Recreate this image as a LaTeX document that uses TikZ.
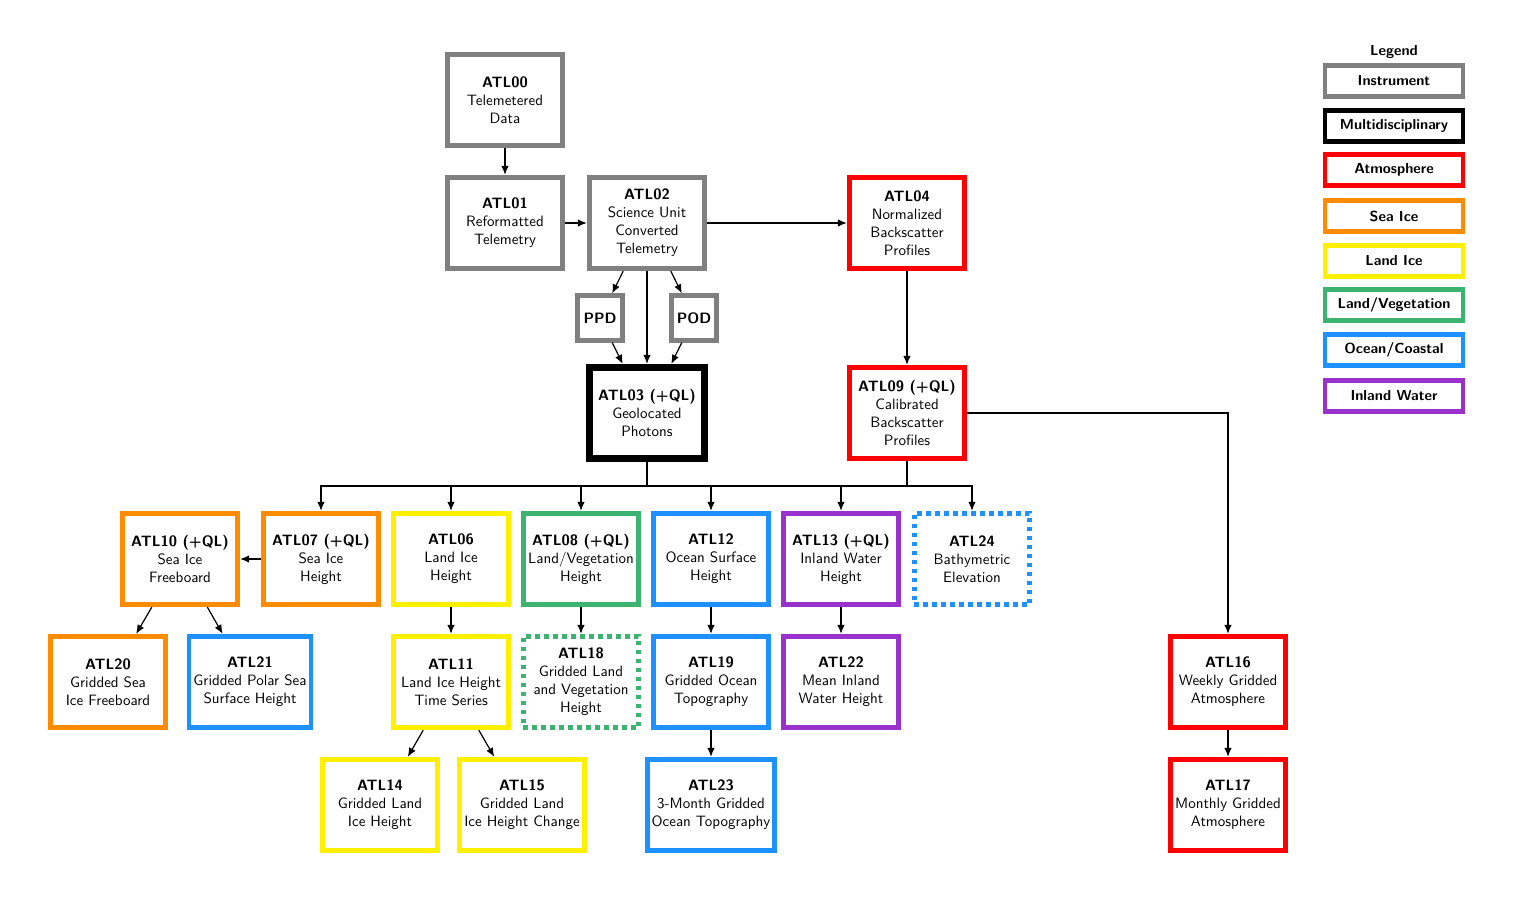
\documentclass[tikz,border=0pt]{standalone}
\usetikzlibrary{arrows.meta}

\definecolor{instr}{RGB}{128,128,128}
\definecolor{atmos}{RGB}{255,0,0}
\definecolor{seaice}{RGB}{255,140,0}
\definecolor{landice}{RGB}{255,240,0}
\definecolor{landveg}{RGB}{60,179,113}
\definecolor{ocean}{RGB}{30,144,255}
\definecolor{inland}{RGB}{153,50,204}

\tikzset{
    prod/.style={draw, line width=3.2pt, fill=white, align=center, font=\sffamily,
        minimum width=77pt, minimum height=61pt, inner sep=3pt},
    aux/.style={draw, line width=3.2pt, fill=white, font=\sffamily,
        minimum size=29.7pt, inner sep=1pt},
    planned/.style={dash pattern=on 3pt off 3pt},
    leg/.style={draw, line width=3.2pt, fill=white,
        font=\sffamily\fontsize{9.7pt}{11pt}\selectfont\bfseries,
        minimum width=92pt, minimum height=21pt, inner sep=1pt},
    link/.style={-{Latex[length=6pt,width=5pt]}, line width=0.8pt},
}

\begin{document}
\begin{tikzpicture}[x=0.6667pt, y=-0.6667pt]
    \useasboundingbox (0,0) rectangle (1515,897);

    % Instrument
    \node[prod, draw=instr] (ATL00) at (505,100) {\textbf{ATL00}\\Telemetered\\Data};
    \node[prod, draw=instr] (ATL01) at (505,223) {\textbf{ATL01}\\Reformatted\\Telemetry};
    \node[prod, draw=instr] (ATL02) at (647,223) {\textbf{ATL02}\\Science Unit\\Converted\\Telemetry};
    \node[aux, draw=instr] (PPD) at (600,318) {\textbf{PPD}};
    \node[aux, draw=instr] (POD) at (694,318) {\textbf{POD}};

    % Multidisciplinary
    \node[prod, draw=black, line width=4.5pt] (ATL03) at (647,413) {\textbf{ATL03 (+QL)}\\Geolocated\\Photons};

    % Atmosphere
    \node[prod, draw=atmos] (ATL04) at (907,223) {\textbf{ATL04}\\Normalized\\Backscatter\\Profiles};
    \node[prod, draw=atmos] (ATL09) at (907,413) {\textbf{ATL09 (+QL)}\\Calibrated\\Backscatter\\Profiles};
    \node[prod, draw=atmos] (ATL16) at (1228,682) {\textbf{ATL16}\\Weekly Gridded\\Atmosphere};
    \node[prod, draw=atmos] (ATL17) at (1228,805) {\textbf{ATL17}\\Monthly Gridded\\Atmosphere};

    % Sea ice
    \node[prod, draw=seaice] (ATL07) at (321,559) {\textbf{ATL07 (+QL)}\\Sea Ice\\Height};
    \node[prod, draw=seaice] (ATL10) at (180,559) {\textbf{ATL10 (+QL)}\\Sea Ice\\Freeboard};
    \node[prod, draw=seaice] (ATL20) at (108,682) {\textbf{ATL20}\\Gridded Sea\\Ice Freeboard};

    % Land ice
    \node[prod, draw=landice] (ATL06) at (451,559) {\textbf{ATL06}\\Land Ice\\Height};
    \node[prod, draw=landice] (ATL11) at (451,682) {\textbf{ATL11}\\Land Ice Height\\Time Series};
    \node[prod, draw=landice] (ATL14) at (380,805) {\textbf{ATL14}\\Gridded Land\\Ice Height};
    \node[prod, draw=landice] (ATL15) at (522,805) {\textbf{ATL15}\\Gridded Land\\Ice Height Change};

    % Land / vegetation
    \node[prod, draw=landveg] (ATL08) at (581,559) {\textbf{ATL08 (+QL)}\\Land/Vegetation\\Height};
    \node[prod, draw=landveg, planned] (ATL18) at (581,682) {\textbf{ATL18}\\Gridded Land\\and Vegetation\\Height};

    % Ocean / coastal
    \node[prod, draw=ocean] (ATL12) at (711,559) {\textbf{ATL12}\\Ocean Surface\\Height};
    \node[prod, draw=ocean] (ATL19) at (711,682) {\textbf{ATL19}\\Gridded Ocean\\Topography};
    \node[prod, draw=ocean] (ATL23) at (711,805) {\textbf{ATL23}\\3-Month Gridded\\Ocean Topography};
    \node[prod, draw=ocean] (ATL21) at (250,682) {\textbf{ATL21}\\Gridded Polar Sea\\Surface Height};
    \node[prod, draw=ocean, planned] (ATL24) at (972,559) {\textbf{ATL24}\\Bathymetric\\Elevation};

    % Inland water
    \node[prod, draw=inland] (ATL13) at (841,559) {\textbf{ATL13 (+QL)}\\Inland Water\\Height};
    \node[prod, draw=inland] (ATL22) at (841,682) {\textbf{ATL22}\\Mean Inland\\Water Height};

    % Connectors
    \draw[link] (ATL00) -- (ATL01);
    \draw[link] (ATL01) -- (ATL02);
    \draw[link] (ATL02) -- (ATL04);
    \draw[link] (ATL02) -- (PPD);
    \draw[link] (ATL02) -- (POD);
    \draw[link] (ATL02) -- (ATL03);
    \draw[link] (PPD) -- (ATL03);
    \draw[link] (POD) -- (ATL03);
    \draw[link] (ATL04) -- (ATL09);

    \coordinate (bus) at (647,486);
    \draw[line width=0.8pt] (ATL09) |- (bus);
    \foreach \n in {ATL07,ATL06,ATL08,ATL12,ATL13,ATL24}
        \draw[link] (ATL03) -- (bus) -| (\n);

    \draw[link] (ATL07) -- (ATL10);
    \draw[link] (ATL10) -- (ATL20);
    \draw[link] (ATL10) -- (ATL21);
    \draw[link] (ATL06) -- (ATL11);
    \draw[link] (ATL11) -- (ATL14);
    \draw[link] (ATL11) -- (ATL15);
    \draw[link] (ATL08) -- (ATL18);
    \draw[link] (ATL12) -- (ATL19);
    \draw[link] (ATL19) -- (ATL23);
    \draw[link] (ATL13) -- (ATL22);
    \draw[link] (ATL09) -| (ATL16);
    \draw[link] (ATL16) -- (ATL17);

    % Legend
    \node[font=\sffamily\fontsize{9.7pt}{11pt}\selectfont\bfseries] (legtitle) at (1394,52) {Legend};
    \foreach \y/\c/\t [count=\i] in {81/instr/Instrument, 126/black/Multidisciplinary,
        170/atmos/Atmosphere, 216/seaice/Sea Ice, 261/landice/Land Ice,
        305/landveg/{Land/Vegetation}, 350/ocean/{Ocean/Coastal}, 396/inland/Inland Water}
        \node[leg, draw=\c] (leg\i) at (1394,\y) {\t};
\end{tikzpicture}
\end{document}
